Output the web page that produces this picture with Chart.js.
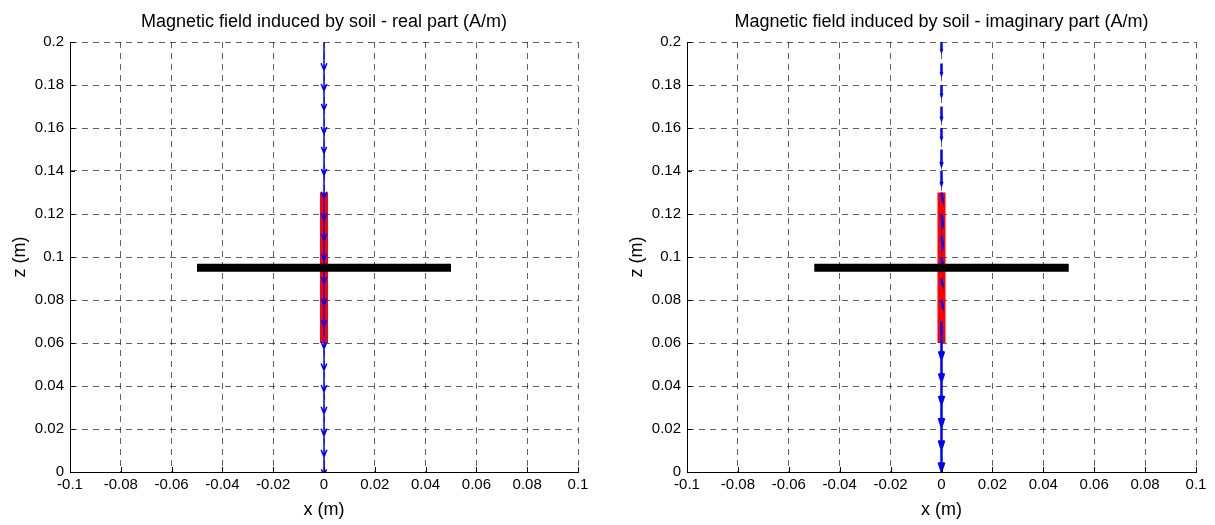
<!DOCTYPE html>
<html>
<head>
<meta charset="utf-8">
<title>Magnetic field induced by soil</title>
<script src="https://cdn.jsdelivr.net/npm/chart.js@4.4.0/dist/chart.umd.min.js"></script>
<style>
  html, body { margin: 0; padding: 0; background: #fff; overflow: hidden; }
  #wrap { position: relative; width: 1215px; height: 525px; }
  canvas { position: absolute; top: 0; }
  #realChart { left: 0; }
  #imagChart { left: 607px; }
</style>
</head>
<body>
<div id="wrap">
  <canvas id="realChart" width="607" height="525"></canvas>
  <canvas id="imagChart" width="608" height="525"></canvas>
</div>
<script>
// axis ticks
const xTicks = [-0.1, -0.08, -0.06, -0.04, -0.02, 0, 0.02, 0.04, 0.06, 0.08, 0.1];
const zTicks = [0, 0.02, 0.04, 0.06, 0.08, 0.1, 0.12, 0.14, 0.16, 0.18, 0.2];

// field arrows sit on the line x = 0, one every centimetre
const arrowX = 0;
const arrowZ = [0.2, 0.19, 0.18, 0.17, 0.16, 0.15, 0.14, 0.13, 0.12, 0.11, 0.1,
                0.09, 0.08, 0.07, 0.06, 0.05, 0.04, 0.03, 0.02, 0.01, 0];

// real part (Hx, Hz)
const realU = [0, 0, 0, 0, 0, 0, 0, 0, 0, 0, 0, 0, 0, 0, 0, 0, 0, 0, 0, 0, 0];
const realV = [-0.0132, -0.0127, -0.0117, -0.0127, -0.0117, -0.0120, -0.0129, -0.0130, -0.0123, -0.0116, -0.0124,
               -0.0125, -0.0124, -0.0127, -0.0127, -0.0127, -0.0129, -0.0131, -0.0129, -0.0117, -0.0120];

// imaginary part (Hx, Hz)
const imagU = [0, 0, 0, 0, 0, 0, 0, 0.0004, 0.0004, 0.0004, 0.0003, 0.0003, 0.0004, 0, 0, 0, 0, 0, 0, 0, 0];
const imagV = [-0.0040, -0.0048, -0.0048, -0.0058, -0.0048, -0.0072, -0.0062, -0.0035, -0.0040, -0.0040, -0.0025,
               -0.0025, -0.0030, -0.0173, -0.0177, -0.0182, -0.0187, -0.0191, -0.0194, -0.0200, -0.0205];

// horizontal coil (black) and vertical sensor (red)
const coilX = [-0.05, 0.05];
const coilZ = [0.095, 0.095];
const sensorX = [0, 0];
const sensorZ = [0.06, 0.13];

const FONT = 'Arial, "Liberation Sans", Helvetica, sans-serif';
const gridColor = 'rgba(0,0,0,0.62)';

function toPoints(xs, zs) {
  return xs.map((x, i) => ({ x: x, y: zs[i] }));
}

// quiver style arrows: shaft + two barbs, null points break the line
function quiverPoints(x0, zs, us, vs, alpha, beta) {
  const pts = [];
  zs.forEach((z, i) => {
    const u = us[i], v = vs[i];
    const tx = x0 + u, tz = z + v;
    pts.push({ x: x0, y: z }, { x: tx, y: tz }, { x: null, y: null });
    pts.push(
      { x: tx - alpha * (u + beta * v), y: tz - alpha * (v - beta * u) },
      { x: tx, y: tz },
      { x: tx - alpha * (u - beta * v), y: tz - alpha * (v + beta * u) },
      { x: null, y: null }
    );
  });
  return pts;
}

// short tick marks pointing into the plot
const inwardTicks = {
  id: 'inwardTicks',
  afterDraw(chart) {
    const ctx = chart.ctx;
    const xs = chart.scales.x, ys = chart.scales.y;
    const area = chart.chartArea;
    ctx.save();
    ctx.strokeStyle = '#000';
    ctx.lineWidth = 1;
    ctx.beginPath();
    xTicks.forEach(v => {
      const px = Math.round(xs.getPixelForValue(v)) + 0.5;
      ctx.moveTo(px, area.bottom);
      ctx.lineTo(px, area.bottom - 5);
    });
    zTicks.forEach(v => {
      const py = Math.round(ys.getPixelForValue(v)) + 0.5;
      ctx.moveTo(area.left, py);
      ctx.lineTo(area.left + 5, py);
    });
    ctx.stroke();
    ctx.restore();
  }
};

function makeChart(id, titleText, us, vs, arrowWidth, head, axisWidth, rightPad, zTitlePad) {
  return new Chart(document.getElementById(id), {
    type: 'scatter',
    data: {
      datasets: [
        {
          data: toPoints(coilX, coilZ),
          showLine: true, borderColor: '#000', borderWidth: 8,
          pointRadius: 0, borderCapStyle: 'butt'
        },
        {
          data: quiverPoints(arrowX, arrowZ, us, vs, head[0], head[1]),
          showLine: true, spanGaps: false, clip: 0,
          borderColor: '#0000ff', borderWidth: arrowWidth, pointRadius: 0
        },
        {
          data: toPoints(sensorX, sensorZ),
          showLine: true, borderColor: '#ff0000', borderWidth: 8,
          pointRadius: 0, borderCapStyle: 'butt'
        }
      ]
    },
    options: {
      responsive: false,
      animation: false,
      devicePixelRatio: 1,
      layout: { padding: { left: 0, right: rightPad, top: 0, bottom: 0 } },
      plugins: {
        legend: { display: false },
        tooltip: { enabled: false },
        title: {
          display: true, text: titleText, fullSize: false, color: '#000',
          font: { family: FONT, size: 18, weight: 'normal' },
          padding: { top: 11, bottom: 9.4 }
        }
      },
      scales: {
        x: {
          type: 'linear', min: -0.1, max: 0.1,
          afterBuildTicks: s => { s.ticks = xTicks.map(value => ({ value })); },
          afterFit: s => { s.height = 53; },
          ticks: {
            callback: v => String(v), color: '#000', padding: 4,
            maxRotation: 0, autoSkip: false,
            font: { family: FONT, size: 15 }
          },
          grid: { color: gridColor, lineWidth: 1, drawTicks: false },
          border: { display: true, color: '#000', width: 1, dash: [6, 5] },
          title: {
            display: true, text: 'x (m)', color: '#000',
            font: { family: FONT, size: 18 }, padding: { top: 0, bottom: 4 }
          }
        },
        y: {
          type: 'linear', min: 0, max: 0.2,
          afterBuildTicks: s => { s.ticks = zTicks.map(value => ({ value })); },
          afterFit: s => { s.width = axisWidth; },
          ticks: {
            callback: v => String(v), color: '#000', padding: 6,
            autoSkip: false, font: { family: FONT, size: 15 }
          },
          grid: { color: gridColor, lineWidth: 1, drawTicks: false },
          border: { display: true, color: '#000', width: 1, dash: [6, 5] },
          title: {
            display: true, text: 'z (m)', color: '#000',
            font: { family: FONT, size: 18 }, padding: { top: zTitlePad, bottom: 0 }
          }
        }
      }
    },
    plugins: [inwardTicks]
  });
}

makeChart('realChart', 'Magnetic field induced by soil - real part (A/m)', realU, realV, 1.5, [0.25, 0.35], 70, 29, 9);
makeChart('imagChart', 'Magnetic field induced by soil - imaginary part (A/m)', imagU, imagV, 2.5, [0.2, 0.28], 80, 19, 19);
</script>
</body>
</html>
